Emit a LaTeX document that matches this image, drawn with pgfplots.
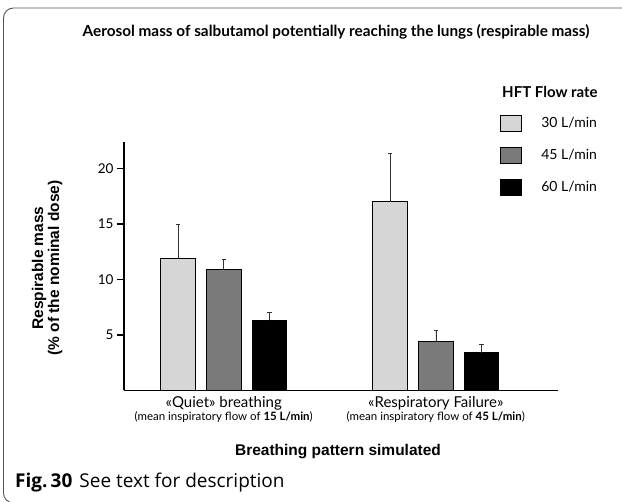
\documentclass[border=0pt]{standalone}
\usepackage{pgfplots}
\pgfplotsset{compat=1.18}
\usepackage{fontspec}
\setmainfont{Lato}
\newfontfamily\arialfont{Liberation Sans}
\newfontfamily\capfont{Open Sans}
\definecolor{lightbar}{HTML}{D6D6D6}
\definecolor{midbar}{HTML}{7A7A7A}
\definecolor{framecol}{HTML}{555555}
\begin{document}
\begin{tikzpicture}
\path[use as bounding box] (0pt,0pt) rectangle (622pt,502pt);
\draw[framecol, line width=0.9pt, rounded corners=10pt] (3.5pt,-1pt) rectangle (640pt,494pt);
\begin{axis}[
  at={(124pt,111.7pt)}, anchor=south west,
  scale only axis, width=434pt, height=248.3pt,
  xmin=0, xmax=434, ymin=0, ymax=22.4,
  axis x line=bottom, axis y line=left,
  axis line style={-, line width=1.3pt},
  xtick=\empty,
  ytick={5,10,15,20},
  tick align=outside, major tick length=7pt,
  ytick style={line width=1.3pt, black},
  yticklabel style={font=\fontsize{13.5}{13.5}\selectfont, /pgf/number format/assume math mode=true},
  clip=false,
  ybar, bar width=34.7,
  legend image code/.code={\draw[#1] (0pt,-8pt) rectangle (21pt,8pt);},
  legend style={at={(axis cs:376,24.87)}, anchor=north west, draw=none, fill=none,
    inner sep=0pt, row sep=15pt,
    font=\fontsize{14}{14}\selectfont,
    nodes={inner sep=0pt},
    /tikz/every odd column/.append style={column sep=19pt}},
  legend cell align=left,
  error bars/y dir=plus, error bars/y explicit,
  error bars/error mark options={rotate=90, black!80, mark size=2.2pt, line width=0.7pt},
  error bars/error bar style={black!80, line width=0.6pt},
]
\addplot[fill=lightbar, draw=black, line width=1.1pt, bar shift=0pt]
  coordinates {(54,11.9) +- (0,3.1) (266,17.0) +- (0,4.4)};
\addlegendentry{30 L/min}
\addplot[fill=midbar, draw=black, line width=1.1pt, bar shift=0pt]
  coordinates {(99.7,10.9) +- (0,0.9) (311.8,4.4) +- (0,1.05)};
\addlegendentry{45 L/min}
\addplot[fill=black, draw=black, line width=1.1pt, bar shift=0pt]
  coordinates {(145.4,6.3) +- (0,0.75) (357.5,3.4) +- (0,0.7)};
\addlegendentry{60 L/min}
\node[font=\fontsize{15}{15}\selectfont, anchor=center] at (axis cs:99.7,-1.15) {«Quiet» breathing};
\node[font=\fontsize{11.5}{11.5}\selectfont, anchor=center] at (axis cs:99.7,-2.4) {(mean inspiratory flow of \textbf{15 L/min})};
\node[font=\fontsize{15}{15}\selectfont, anchor=center] at (axis cs:311.8,-1.15) {«Respiratory Failure»};
\node[font=\fontsize{11.5}{11.5}\selectfont, anchor=center] at (axis cs:311.8,-2.4) {(mean inspiratory flow of \textbf{45 L/min})};
\end{axis}
\node[font=\fontsize{15.3}{15.3}\selectfont\bfseries] at (336pt,470pt) {Aerosol mass of salbutamol potentially reaching the lungs (respirable mass)};
\node[font=\fontsize{15}{15}\selectfont\bfseries, anchor=west, inner sep=0pt] at (502pt,410pt) {HFT Flow rate};
\node[font=\fontsize{15.5}{16}\selectfont\arialfont\bfseries, rotate=90, align=center] at (47pt,234pt) {Respirable mass\\(\% of the nominal dose)};
\node[font=\fontsize{15.5}{15.5}\selectfont\arialfont\bfseries] at (338pt,50pt) {Breathing pattern simulated};
\node[font=\fontsize{19}{19}\selectfont\capfont, anchor=west, inner sep=0pt] at (15pt,19pt) {\textbf{Fig.\,30}\hspace{7pt}See text for description};
\end{tikzpicture}
\end{document}
